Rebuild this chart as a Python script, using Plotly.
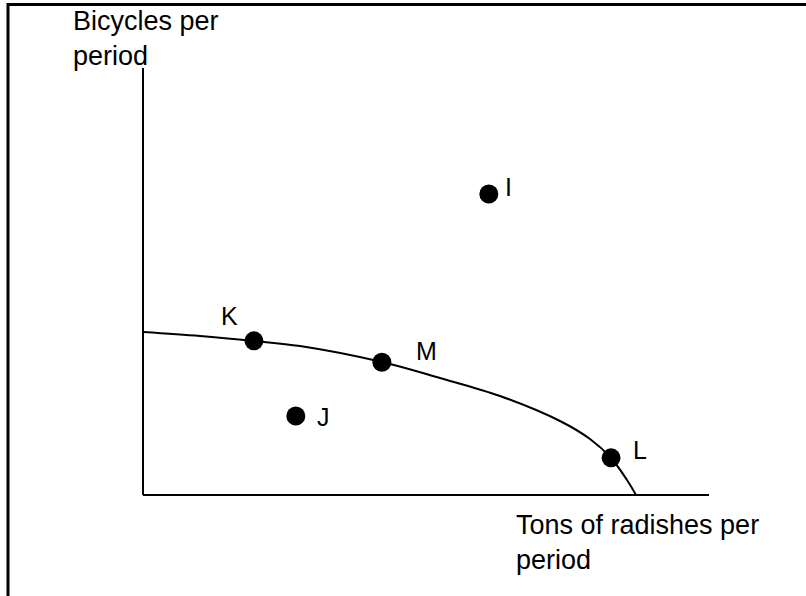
import plotly.graph_objects as go

# ---- data (arbitrary units: tons of radishes vs bicycles) ----
ppf_x = [0, 1.007, 1.961, 2.774, 4.223, 5.247, 6.307, 7.367, 7.898, 8.269, 8.551, 8.710]
ppf_y = [3.817, 3.724, 3.607, 3.489, 3.115, 2.740, 2.319, 1.733, 1.311, 0.867, 0.351, 0.0]

point_labels = ["I", "K", "M", "J", "L"]
point_x = [6.11, 1.96, 4.22, 2.70, 8.27]
point_y = [7.05, 3.61, 3.11, 1.85, 0.87]

axis_x_max = 10
axis_y_max = 10

x_title = "Tons of radishes per<br>period"
y_title = "Bicycles per<br>period"

# ---- layout constants ----
W, H = 806, 596
ox, oy = 143, 495          # pixel position of the origin
sx, sy = 56.6, 42.7        # pixels per unit
x_range = [-ox / sx, (W - ox) / sx]
y_range = [(oy - H) / sy, oy / sy]

FONT = "Liberation Sans, Arial, sans-serif"
FS = 27

fig = go.Figure()

# axes
fig.add_trace(go.Scatter(x=[0, axis_x_max], y=[0, 0], mode="lines",
                         line=dict(color="black", width=2), hoverinfo="skip"))
fig.add_trace(go.Scatter(x=[0, 0], y=[0, axis_y_max], mode="lines",
                         line=dict(color="black", width=2), hoverinfo="skip"))

# PPF curve
fig.add_trace(go.Scatter(x=ppf_x, y=ppf_y, mode="lines",
                         line=dict(color="black", width=2, shape="spline", smoothing=1.0)))

# points
fig.add_trace(go.Scatter(x=point_x, y=point_y, mode="markers",
                         marker=dict(color="black", size=19)))

# point label offsets (pixels)
offsets = {"I": (20, -7), "K": (-24, -25), "M": (45, -11), "J": (28, 1), "L": (29, -8)}
for lab, px, py in zip(point_labels, point_x, point_y):
    dx, dy = offsets[lab]
    fig.add_annotation(x=px, y=py, text=lab, showarrow=False, xshift=dx, yshift=-dy,
                       font=dict(family=FONT, size=FS - 2, color="black"))

fig.add_annotation(x=(71 - ox) / sx, y=(oy - 4) / sy, text=y_title, showarrow=False,
                   xanchor="left", yanchor="top", align="left",
                   font=dict(family=FONT, size=FS, color="black"))
fig.add_annotation(x=(514 - ox) / sx, y=(oy - 508) / sy, text=x_title, showarrow=False,
                   xanchor="left", yanchor="top", align="left",
                   font=dict(family=FONT, size=FS, color="black"))

# frame (top and left edges)
fig.add_shape(type="line", xref="paper", yref="paper", x0=8 / W, x1=1.01,
              y0=1 - 4.5 / H, y1=1 - 4.5 / H, line=dict(color="black", width=3))
fig.add_shape(type="line", xref="paper", yref="paper", x0=8 / W, x1=8 / W,
              y0=-0.01, y1=1 - 3 / H, line=dict(color="black", width=3))

fig.update_layout(
    width=W, height=H,
    margin=dict(l=0, r=0, t=0, b=0),
    paper_bgcolor="white", plot_bgcolor="white",
    showlegend=False,
    xaxis=dict(range=x_range, visible=False, fixedrange=True),
    yaxis=dict(range=y_range, visible=False, fixedrange=True),
)

fig.write_html("out.html", config={"displayModeBar": False},
               post_script="document.body.style.margin='0';document.body.style.overflow='hidden';")
